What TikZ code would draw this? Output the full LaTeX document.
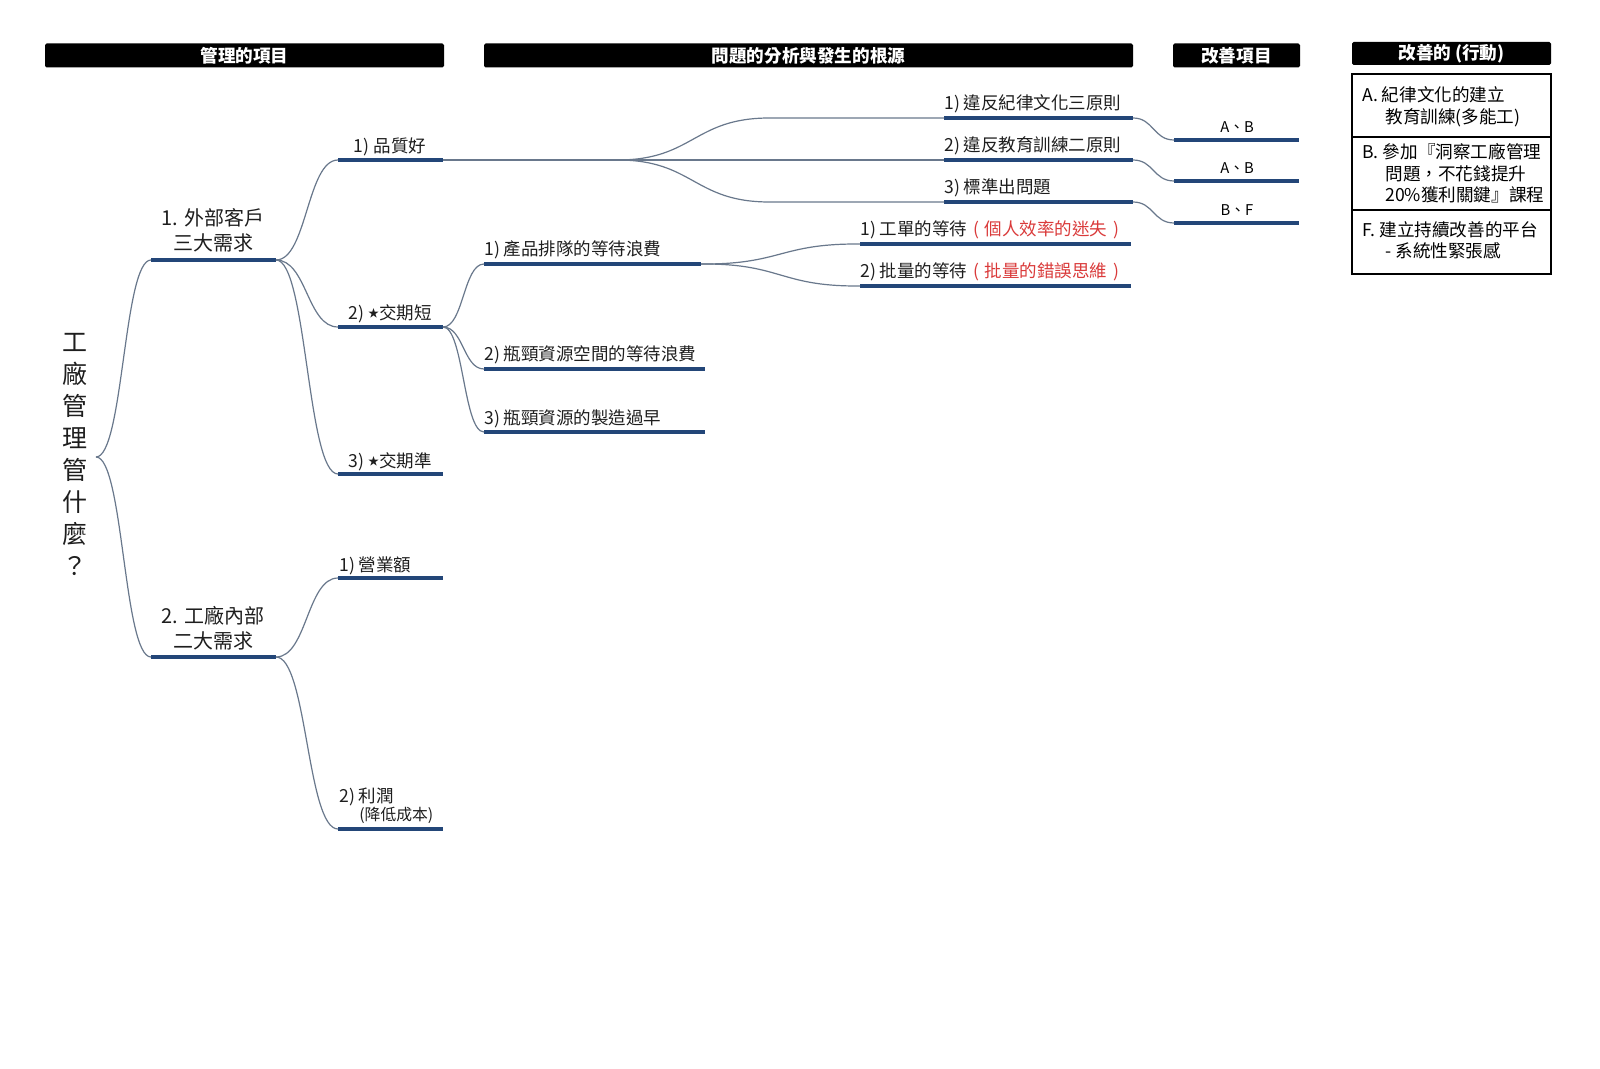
\documentclass[tikz,border=0pt]{standalone}
\usepackage{fontspec}
\setmainfont{Noto Sans CJK TC}[Script=CJK, Language=Chinese Traditional]
\usetikzlibrary{calc}
\definecolor{navy}{RGB}{35,70,120}
\definecolor{connc}{RGB}{105,120,140}
\definecolor{redt}{RGB}{218,58,58}
\definecolor{txt}{RGB}{30,30,30}
\newcommand{\smstar}{\raisebox{1pt}{\fontsize{5.5pt}{6pt}\selectfont ★}}
\newcommand{\lpar}{\makebox[1em]{(}}
\newcommand{\rpar}{\makebox[1em]{)}}
\tikzset{
  uline/.style={draw=navy, line width=1.8pt},
  conn/.style={draw=connc, line width=0.6pt},
  sconn/.style={conn, to path={
    let \p1=(\tikztostart), \p2=(\tikztotarget),
        \n1={(\x1+\x2)/2}, \n2={min((\x2-\x1)/2,38)}
    in (\p1) -- ({(\n1-\n2)*1pt},\y1)
       .. controls ({\n1*1pt},\y1) and ({\n1*1pt},\y2) .. ({(\n1+\n2)*1pt},\y2)
       -- (\p2)}},
  lbl/.style={inner sep=0pt, text=txt, font=\fontsize{8.75pt}{10pt}\selectfont},
  biglbl/.style={inner sep=0pt, text=txt, font=\fontsize{10pt}{12pt}\selectfont},
  smalllbl/.style={inner sep=0pt, text=txt, font=\fontsize{7.9pt}{9pt}\selectfont},
  ablbl/.style={inner sep=0pt, text=black, font=\fontsize{7.4pt}{9pt}\selectfont},
  hdr/.style={fill=black, text=white, inner sep=0pt, rounded corners=0.8pt,
    font=\bfseries\fontsize{8.8pt}{10pt}\selectfont},
  paneltxt/.style={inner sep=0pt, text=black, font=\fontsize{8.8pt}{10pt}\selectfont},
  titletxt/.style={inner sep=0pt, text=txt, align=center, font=\fontsize{12.5pt}{16pt}\selectfont}
}
\begin{document}
\begin{tikzpicture}[x=0.5pt, y=-0.5pt]
\useasboundingbox (0,0) rectangle (1600,1069);
\fill[white] (0,0) rectangle (1600,1069);

% headers
\node[hdr, minimum width=199.5pt, minimum height=12pt] (h1) at (244.5,55.5) {管理的項目};
\node[hdr, minimum width=324.5pt, minimum height=12pt] (h2) at (808.5,55.5) {問題的分析與發生的根源};
\node[hdr, minimum width=63.5pt, minimum height=12pt] (h3) at (1236.5,55.5) {改善項目};
\node[hdr, minimum width=99.5pt, minimum height=11.5pt] (h4) at (1451.5,53.5) {改善的 (行動)};

% title
\node[titletxt] (title) at (75,454) {工\\廠\\管\\理\\管\\什\\麼\\？};
\coordinate (root) at (96,457);

% level 1
\coordinate (p1a) at (151,260); \coordinate (p1b) at (276,260);
\coordinate (p2a) at (151,657); \coordinate (p2b) at (276,657);
\draw[uline] (p1a) -- (p1b);
\draw[uline] (p2a) -- (p2b);
\node[biglbl, anchor=base] (p1t1) at (213,226) {1. 外部客戶};
\node[biglbl, anchor=base] (p1t2) at (213,251) {三大需求};
\node[biglbl, anchor=base] (p2t1) at (213,623) {2. 工廠內部};
\node[biglbl, anchor=base] (p2t2) at (213,648) {二大需求};

% level 2
\coordinate (q1a) at (338,160); \coordinate (q1b) at (443,160);
\coordinate (q2a) at (338,327); \coordinate (q2b) at (443,327);
\coordinate (q3a) at (338,474); \coordinate (q3b) at (443,474);
\coordinate (q4a) at (338,578); \coordinate (q4b) at (443,578);
\coordinate (q5a) at (338,829); \coordinate (q5b) at (443,829);
\foreach \k in {1,...,5} {\draw[uline] (q\k a) -- (q\k b);}
\node[lbl, anchor=base] (q1t) at (390,153) {1) 品質好};
\node[lbl, anchor=base] (q2t) at (390,320) {2) \smstar 交期短};
\node[lbl, anchor=base] (q3t) at (390,467) {3) \smstar 交期準};
\node[lbl, anchor=base west] (q4t) at (339,571) {1) 營業額};
\node[lbl, anchor=base west] (q5t) at (339,802) {2) 利潤};
\node[smalllbl, anchor=base west] (q5s) at (359,820) {(降低成本)};

% level 3 (quality)
\coordinate (r1a) at (944,118); \coordinate (r1b) at (1133,118);
\coordinate (r2a) at (944,160); \coordinate (r2b) at (1133,160);
\coordinate (r3a) at (944,202); \coordinate (r3b) at (1133,202);
\foreach \k in {1,2,3} {\draw[uline] (r\k a) -- (r\k b);}
\node[lbl, anchor=base west] (r1t) at (944,110) {1) 違反紀律文化三原則};
\node[lbl, anchor=base west] (r2t) at (944,152) {2) 違反教育訓練二原則};
\node[lbl, anchor=base west] (r3t) at (944,194) {3) 標準出問題};

% level 3 (lead time)
\coordinate (s1a) at (484,264); \coordinate (s1b) at (701,264);
\coordinate (s2a) at (484,369); \coordinate (s2b) at (705,369);
\coordinate (s3a) at (484,432); \coordinate (s3b) at (705,432);
\foreach \k in {1,2,3} {\draw[uline] (s\k a) -- (s\k b);}
\node[lbl, anchor=base west] (s1t) at (484,256) {1) 產品排隊的等待浪費};
\node[lbl, anchor=base west] (s2t) at (484,361) {2) 瓶頸資源空間的等待浪費};
\node[lbl, anchor=base west] (s3t) at (484,424) {3) 瓶頸資源的製造過早};

% level 4
\coordinate (t1a) at (860,244); \coordinate (t1b) at (1131,244);
\coordinate (t2a) at (860,286); \coordinate (t2b) at (1131,286);
\draw[uline] (t1a) -- (t1b);
\draw[uline] (t2a) -- (t2b);
\node[lbl, anchor=base west] (t1t) at (860,236) {1) 工單的等待\textcolor{redt}{\lpar 個人效率的迷失\rpar}};
\node[lbl, anchor=base west] (t2t) at (860,278) {2) 批量的等待\textcolor{redt}{\lpar 批量的錯誤思維\rpar}};

% improvement items
\coordinate (u1a) at (1174,140); \coordinate (u1b) at (1299,140);
\coordinate (u2a) at (1174,181); \coordinate (u2b) at (1299,181);
\coordinate (u3a) at (1174,223); \coordinate (u3b) at (1299,223);
\foreach \k in {1,2,3} {\draw[uline] (u\k a) -- (u\k b);}
\node[ablbl, anchor=base] (u1t) at (1237,133) {A、B};
\node[ablbl, anchor=base] (u2t) at (1237,174) {A、B};
\node[ablbl, anchor=base] (u3t) at (1237,216) {B、F};

% connectors
\draw[sconn] (root) to (p1a);
\draw[sconn] (root) to (p2a);
\draw[sconn] (p1b) to (q1a);
\draw[sconn] (p1b) to (q2a);
\draw[sconn] (p1b) to (q3a);
\draw[sconn] (p2b) to (q4a);
\draw[sconn] (p2b) to (q5a);
\draw[sconn] (q1b) to (r1a);
\draw[sconn] (q1b) to (r2a);
\draw[sconn] (q1b) to (r3a);
\draw[sconn] (q2b) to (s1a);
\draw[sconn] (q2b) to (s2a);
\draw[sconn] (q2b) to (s3a);
\draw[sconn] (s1b) to (t1a);
\draw[sconn] (s1b) to (t2a);
\draw[sconn] (r1b) to (u1a);
\draw[sconn] (r2b) to (u2a);
\draw[sconn] (r3b) to (u3a);

% action panel
\node[draw=black, line width=1.4pt, minimum width=99.5pt, minimum height=100pt, inner sep=0pt] (panel) at (1451.5,174) {};
\draw[line width=1.4pt] (1352,137) -- (1551,137);
\draw[line width=1.4pt] (1352,210) -- (1551,210);
\node[paneltxt, anchor=base west] (pa1) at (1362,102) {A. 紀律文化的建立};
\node[paneltxt, anchor=base west] (pa2) at (1385,124) {教育訓練(多能工)};
\node[paneltxt, anchor=base west] (pb1) at (1362,159) {B. 參加『洞察工廠管理};
\node[paneltxt, anchor=base west] (pb2) at (1385,181) {問題，不花錢提升};
\node[paneltxt, anchor=base west] (pb3) at (1385,202) {20\%獲利關鍵』課程};
\node[paneltxt, anchor=base west] (pf1) at (1362,237) {F. 建立持續改善的平台};
\node[paneltxt, anchor=base west] (pf2) at (1385,258) {- 系統性緊張感};
\end{tikzpicture}
\end{document}
